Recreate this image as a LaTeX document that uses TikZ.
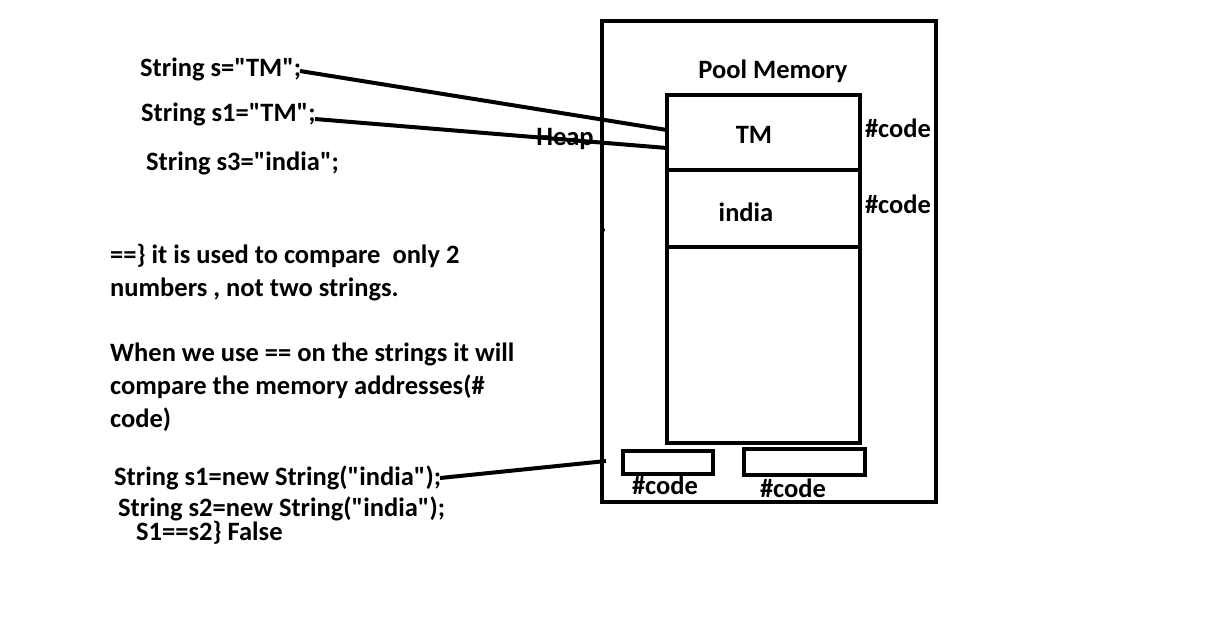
\documentclass[tikz,border=0pt]{standalone}
\usepackage{fontspec}
\setmainfont{Carlito}[Ligatures=TeXOff]
\begin{document}
\begin{tikzpicture}[x=1pt,y=-1pt,
  txt/.style={font=\bfseries\fontsize{26.5}{30}\selectfont, inner sep=0pt, anchor=base west},
  ctr/.style={font=\bfseries\fontsize{26.5}{30}\selectfont, inner sep=0pt, anchor=base},
  box/.style={draw, line width=4pt},
  wire/.style={line width=4pt}]
\useasboundingbox (0,0) rectangle (1217,622);
% outer box
\draw[box] (602,21) rectangle (936,502);
\node[ctr] (pool) at (773,78) {Pool Memory};
% inner pool
\draw[box] (667,95) rectangle (860,443);
\draw[box] (667,170) -- (860,170);
\draw[box] (667,247) -- (860,247);
\coordinate (tmA) at (667,130);
\coordinate (tmB) at (667,148);
\node[ctr] (tm) at (754,143) {TM};
\node[ctr] (india) at (746,221) {india};
\node[ctr] (c1) at (898,137) {\#code};
\node[ctr] (c2) at (898,213) {\#code};
% small boxes
\draw[box] (623,451) rectangle (713,474);
\draw[box] (744,449) rectangle (865,475);
\coordinate (heapA) at (606,461);
\node[ctr] (c3) at (665,494) {\#code};
\node[ctr] (c4) at (793,497) {\#code};
\node[ctr] (heap) at (565,145) {Heap};
\fill (603,230) circle (2);
% left texts
\node[txt] (s) at (140,76) {String s="TM";};
\node[txt] (s1) at (141,121) {String s1="TM";};
\node[txt] (s3) at (146,170) {String s3="india";};
\node[txt] (t1) at (110,263) {==\} it is used to compare\ \ only 2};
\node[txt] (t2) at (110,296) {numbers , not two strings.};
\node[txt] (t3) at (110,361) {When we use == on the strings it will};
\node[txt] (t4) at (110,394) {compare the memory addresses(\#};
\node[txt] (t5) at (110,427) {code)};
\node[txt] (n1) at (114,485) {String s1=new String("india");};
\node[txt] (n2) at (118,516) {String s2=new String("india");};
\node[txt] (n3) at (136,540) {S1==s2\} False};
% connectors
\coordinate (sA) at (300,71);
\coordinate (s1A) at (315,119);
\coordinate (n1A) at (440,478);
\draw[wire] (sA) -- (tmA);
\draw[wire] (s1A) -- (tmB);
\draw[wire] (n1A) -- (heapA);
\end{tikzpicture}
\end{document}
